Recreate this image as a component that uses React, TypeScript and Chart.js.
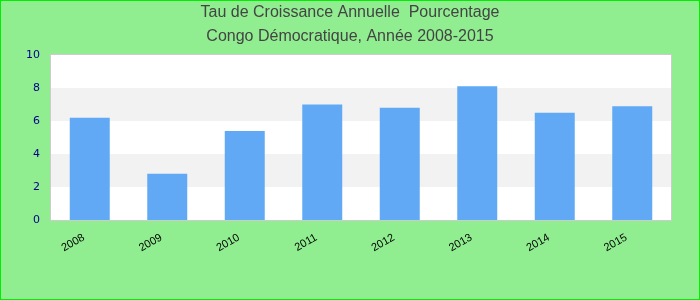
import React, { useEffect, useRef } from "react";
import { Chart, registerables } from "chart.js";

Chart.register(...registerables);

const years = ["2008", "2009", "2010", "2011", "2012", "2013", "2014", "2015"];
const growth = [6.2, 2.8, 5.4, 7.0, 6.8, 8.1, 6.5, 6.9];
const titleLines = ["Tau de Croissance Annuelle  Pourcentage", "Congo Démocratique, Année 2008-2015"];
const yMin = 0;
const yMax = 10;
const yStep = 2;

const decor = {
  id: "decor",
  beforeDraw(chart: any) {
    const { ctx, width, height } = chart;
    ctx.save();
    ctx.fillStyle = "#90ee90";
    ctx.fillRect(0, 0, width, height);
    ctx.strokeStyle = "#00ee00";
    ctx.lineWidth = 1;
    ctx.strokeRect(0.5, 0.5, width - 1, height - 1);
    ctx.fillStyle = "#444444";
    ctx.font = "16px 'Liberation Sans', Arial, sans-serif";
    ctx.textAlign = "center";
    ctx.textBaseline = "middle";
    titleLines.forEach((t, i) => ctx.fillText(t, width / 2, 13 + i * 24));
    ctx.restore();
  },
  beforeDatasetsDraw(chart: any) {
    const { ctx, chartArea } = chart;
    const y = chart.scales.y;
    ctx.save();
    ctx.fillStyle = "#ffffff";
    ctx.fillRect(chartArea.left, chartArea.top, chartArea.right - chartArea.left, chartArea.bottom - chartArea.top);
    let i = 0;
    for (let v = yMin; v < yMax; v += yStep, i++) {
      if (i % 2 === 1) {
        const top = y.getPixelForValue(v + yStep);
        const bot = y.getPixelForValue(v);
        ctx.fillStyle = "#f2f2f2";
        ctx.fillRect(chartArea.left, top, chartArea.right - chartArea.left, bot - top);
      }
    }
    ctx.strokeStyle = "#cccccc";
    ctx.lineWidth = 1;
    ctx.strokeRect(
      Math.round(chartArea.left) - 0.5,
      Math.round(chartArea.top) - 0.5,
      Math.round(chartArea.right - chartArea.left) + 1,
      Math.round(chartArea.bottom - chartArea.top) + 1
    );
    ctx.restore();
  },
};

export default function App() {
  const ref = useRef<HTMLCanvasElement>(null);
  useEffect(() => {
    document.body.style.margin = "0";
    const chart = new Chart(ref.current as HTMLCanvasElement, {
      type: "bar",
      data: {
        labels: years,
        datasets: [
          {
            data: growth,
            backgroundColor: "#61a9f5",
            barPercentage: 0.516,
            categoryPercentage: 1,
          },
        ],
      },
      options: {
        responsive: false,
        animation: false,
        layout: { padding: { left: 0, right: 29, top: 55, bottom: 0 } },
        plugins: {
          legend: { display: false },
          tooltip: { enabled: false },
          title: { display: false },
        },
        scales: {
          x: {
            grid: { display: false, drawTicks: false },
            border: { display: false },
            ticks: {
              color: "#000000",
              minRotation: 30,
              maxRotation: 30,
              padding: 11,
              labelOffset: -6,
              font: { family: "'Liberation Sans', Arial, sans-serif", size: 11 },
            },
            afterFit(scale: any) {
              scale.height = 80;
            },
          },
          y: {
            min: yMin,
            max: yMax,
            grid: { display: false, drawTicks: false },
            border: { display: false },
            ticks: {
              stepSize: yStep,
              color: "#00008b",
              padding: 11,
              font: { family: "'DejaVu Sans', Verdana, sans-serif", size: 11 },
            },
            afterFit(scale: any) {
              scale.width = 51;
            },
          },
        },
      },
      plugins: [decor],
    });
    return () => chart.destroy();
  }, []);
  return <canvas ref={ref} width={700} height={300} style={{ display: "block" }} />;
}
